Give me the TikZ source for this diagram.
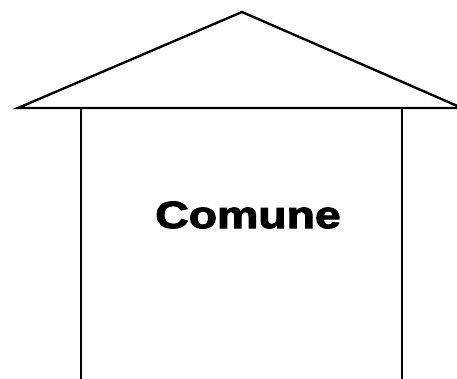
\documentclass[tikz,border=0pt]{standalone}
\usepackage{fontspec}
\setmainfont{Liberation Sans}
\newfontfamily\heavyfont[BoldFeatures={FakeBold=2.5}]{Liberation Sans}
\usepackage{tikz}
\usetikzlibrary{positioning}
\tikzset{
  wall/.style={draw=black, line width=2.4pt, line cap=butt},
  roof/.style={draw=black, line width=2.4pt, line join=miter},
  label/.style={font=\fontsize{38}{44}\heavyfont\bfseries, inner sep=0pt}
}

\begin{document}
\begin{tikzpicture}[x=1pt, y=-1pt]
  \useasboundingbox (0,0) rectangle (457,379);
  \coordinate (apex) at (242,12);
  \coordinate (eaveL) at (18,108);
  \coordinate (eaveR) at (462,108);
  \coordinate (topL) at (81,108);
  \coordinate (topR) at (402,108);
  \coordinate (botL) at (81,382);
  \coordinate (botR) at (402,382);
  \draw[roof] (eaveL) -- (apex) -- (eaveR) -- cycle;
  \draw[wall] (topL) -- (botL);
  \draw[wall] (topR) -- (botR);
  \node[label] (name) at (248,215) {\scalebox{1.22}[1]{Comune}};
\end{tikzpicture}
\end{document}
